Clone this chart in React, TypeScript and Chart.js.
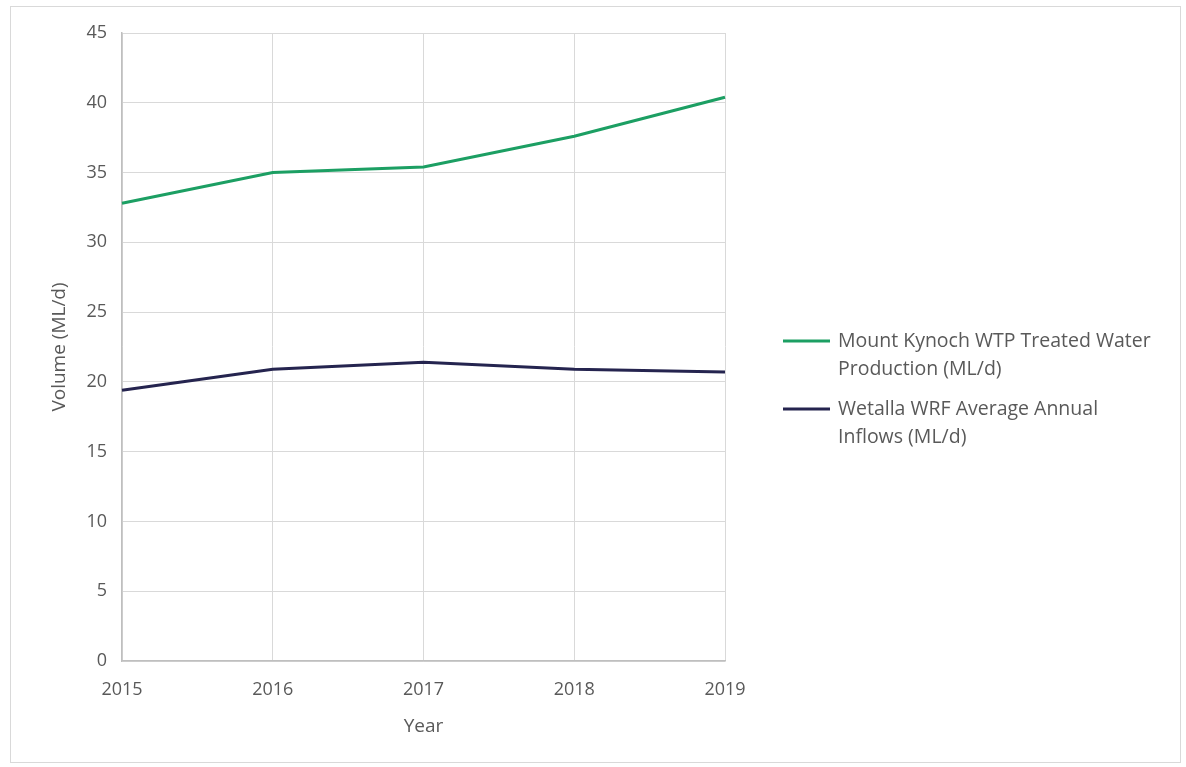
import React, { useEffect, useRef } from "react";
import { Chart, registerables } from "chart.js";

Chart.register(...registerables);

const years = ["2015", "2016", "2017", "2018", "2019"];
const kynoch = [32.8, 35.0, 35.4, 37.6, 40.4];
const wetalla = [19.4, 20.9, 21.4, 20.9, 20.7];
const legendKynoch = ["Mount Kynoch WTP Treated Water", "Production (ML/d)"];
const legendWetalla = ["Wetalla WRF Average Annual", "Inflows (ML/d)"];

const GREEN = "#1c9f63";
const NAVY = "#25244f";
const TEXT = "#595959";
const FONT = "'Open Sans', Lato, sans-serif";

const legendPlugin = {
  id: "sideLegend",
  afterDraw(chart: any) {
    const ctx = chart.ctx;
    const items = [
      { color: GREEN, lines: legendKynoch, y: 341 },
      { color: NAVY, lines: legendWetalla, y: 409 },
    ];
    ctx.save();
    ctx.font = `19.5px ${FONT}`;
    ctx.fillStyle = TEXT;
    ctx.textBaseline = "middle";
    ctx.textAlign = "left";
    for (const it of items) {
      ctx.strokeStyle = it.color;
      ctx.lineWidth = 3;
      ctx.beginPath();
      ctx.moveTo(783, it.y);
      ctx.lineTo(830, it.y);
      ctx.stroke();
      it.lines.forEach((t: string, i: number) => {
        ctx.fillText(t, 838, it.y + i * 28.5);
      });
    }
    ctx.restore();
  },
};

export default function App() {
  const ref = useRef<HTMLCanvasElement>(null);
  useEffect(() => {
    if (!ref.current) return;
    const chart = new Chart(ref.current, {
      type: "line",
      data: {
        labels: years,
        datasets: [
          {
            label: legendKynoch.join(" "),
            data: kynoch,
            borderColor: GREEN,
            backgroundColor: GREEN,
            borderWidth: 3,
            pointRadius: 0,
            tension: 0,
          },
          {
            label: legendWetalla.join(" "),
            data: wetalla,
            borderColor: NAVY,
            backgroundColor: NAVY,
            borderWidth: 3,
            pointRadius: 0,
            tension: 0,
          },
        ],
      },
      options: {
        animation: false,
        responsive: false,
        maintainAspectRatio: false,
        layout: { padding: { left: 0, top: 33, right: 461, bottom: 0 } },
        plugins: {
          legend: { display: false },
          tooltip: { enabled: false },
        },
        scales: {
          x: {
            offset: false,
            grid: { color: "#d9d9d9", lineWidth: 1, drawTicks: false },
            border: { color: "#bfbfbf", width: 1.5 },
            ticks: {
              color: TEXT,
              font: { family: FONT, size: 18 },
              padding: 18,
              maxRotation: 0,
              autoSkip: false,
            },
            title: {
              display: true,
              text: "Year",
              color: TEXT,
              font: { family: FONT, size: 19 },
              padding: { top: 0, bottom: 29 },
            },
            afterFit: (s: any) => {
              s.height = 106;
            },
          },
          y: {
            min: 0,
            max: 45,
            grid: { color: "#d9d9d9", lineWidth: 1, drawTicks: false },
            border: { color: "#bfbfbf", width: 1.5 },
            ticks: {
              stepSize: 5,
              color: TEXT,
              font: { family: FONT, size: 18 },
              padding: 15,
            },
            title: {
              display: true,
              text: "Volume (ML/d)",
              color: TEXT,
              font: { family: FONT, size: 19 },
              padding: { top: 48, bottom: 0 },
            },
            afterFit: (s: any) => {
              s.width = 122;
            },
          },
        },
      },
      plugins: [legendPlugin],
    });
    return () => chart.destroy();
  }, []);

  return (
    <div style={{ position: "absolute", left: 0, top: 0, width: 1186, height: 767, background: "#fff" }}>
      <div
        style={{
          position: "absolute",
          left: 10,
          top: 6,
          width: 1171,
          height: 757,
          boxSizing: "border-box",
          border: "1px solid #d9d9d9",
        }}
      />
      <canvas
        ref={ref}
        width={1186}
        height={767}
        style={{ position: "absolute", left: 0, top: 0, width: 1186, height: 767 }}
      />
    </div>
  );
}
